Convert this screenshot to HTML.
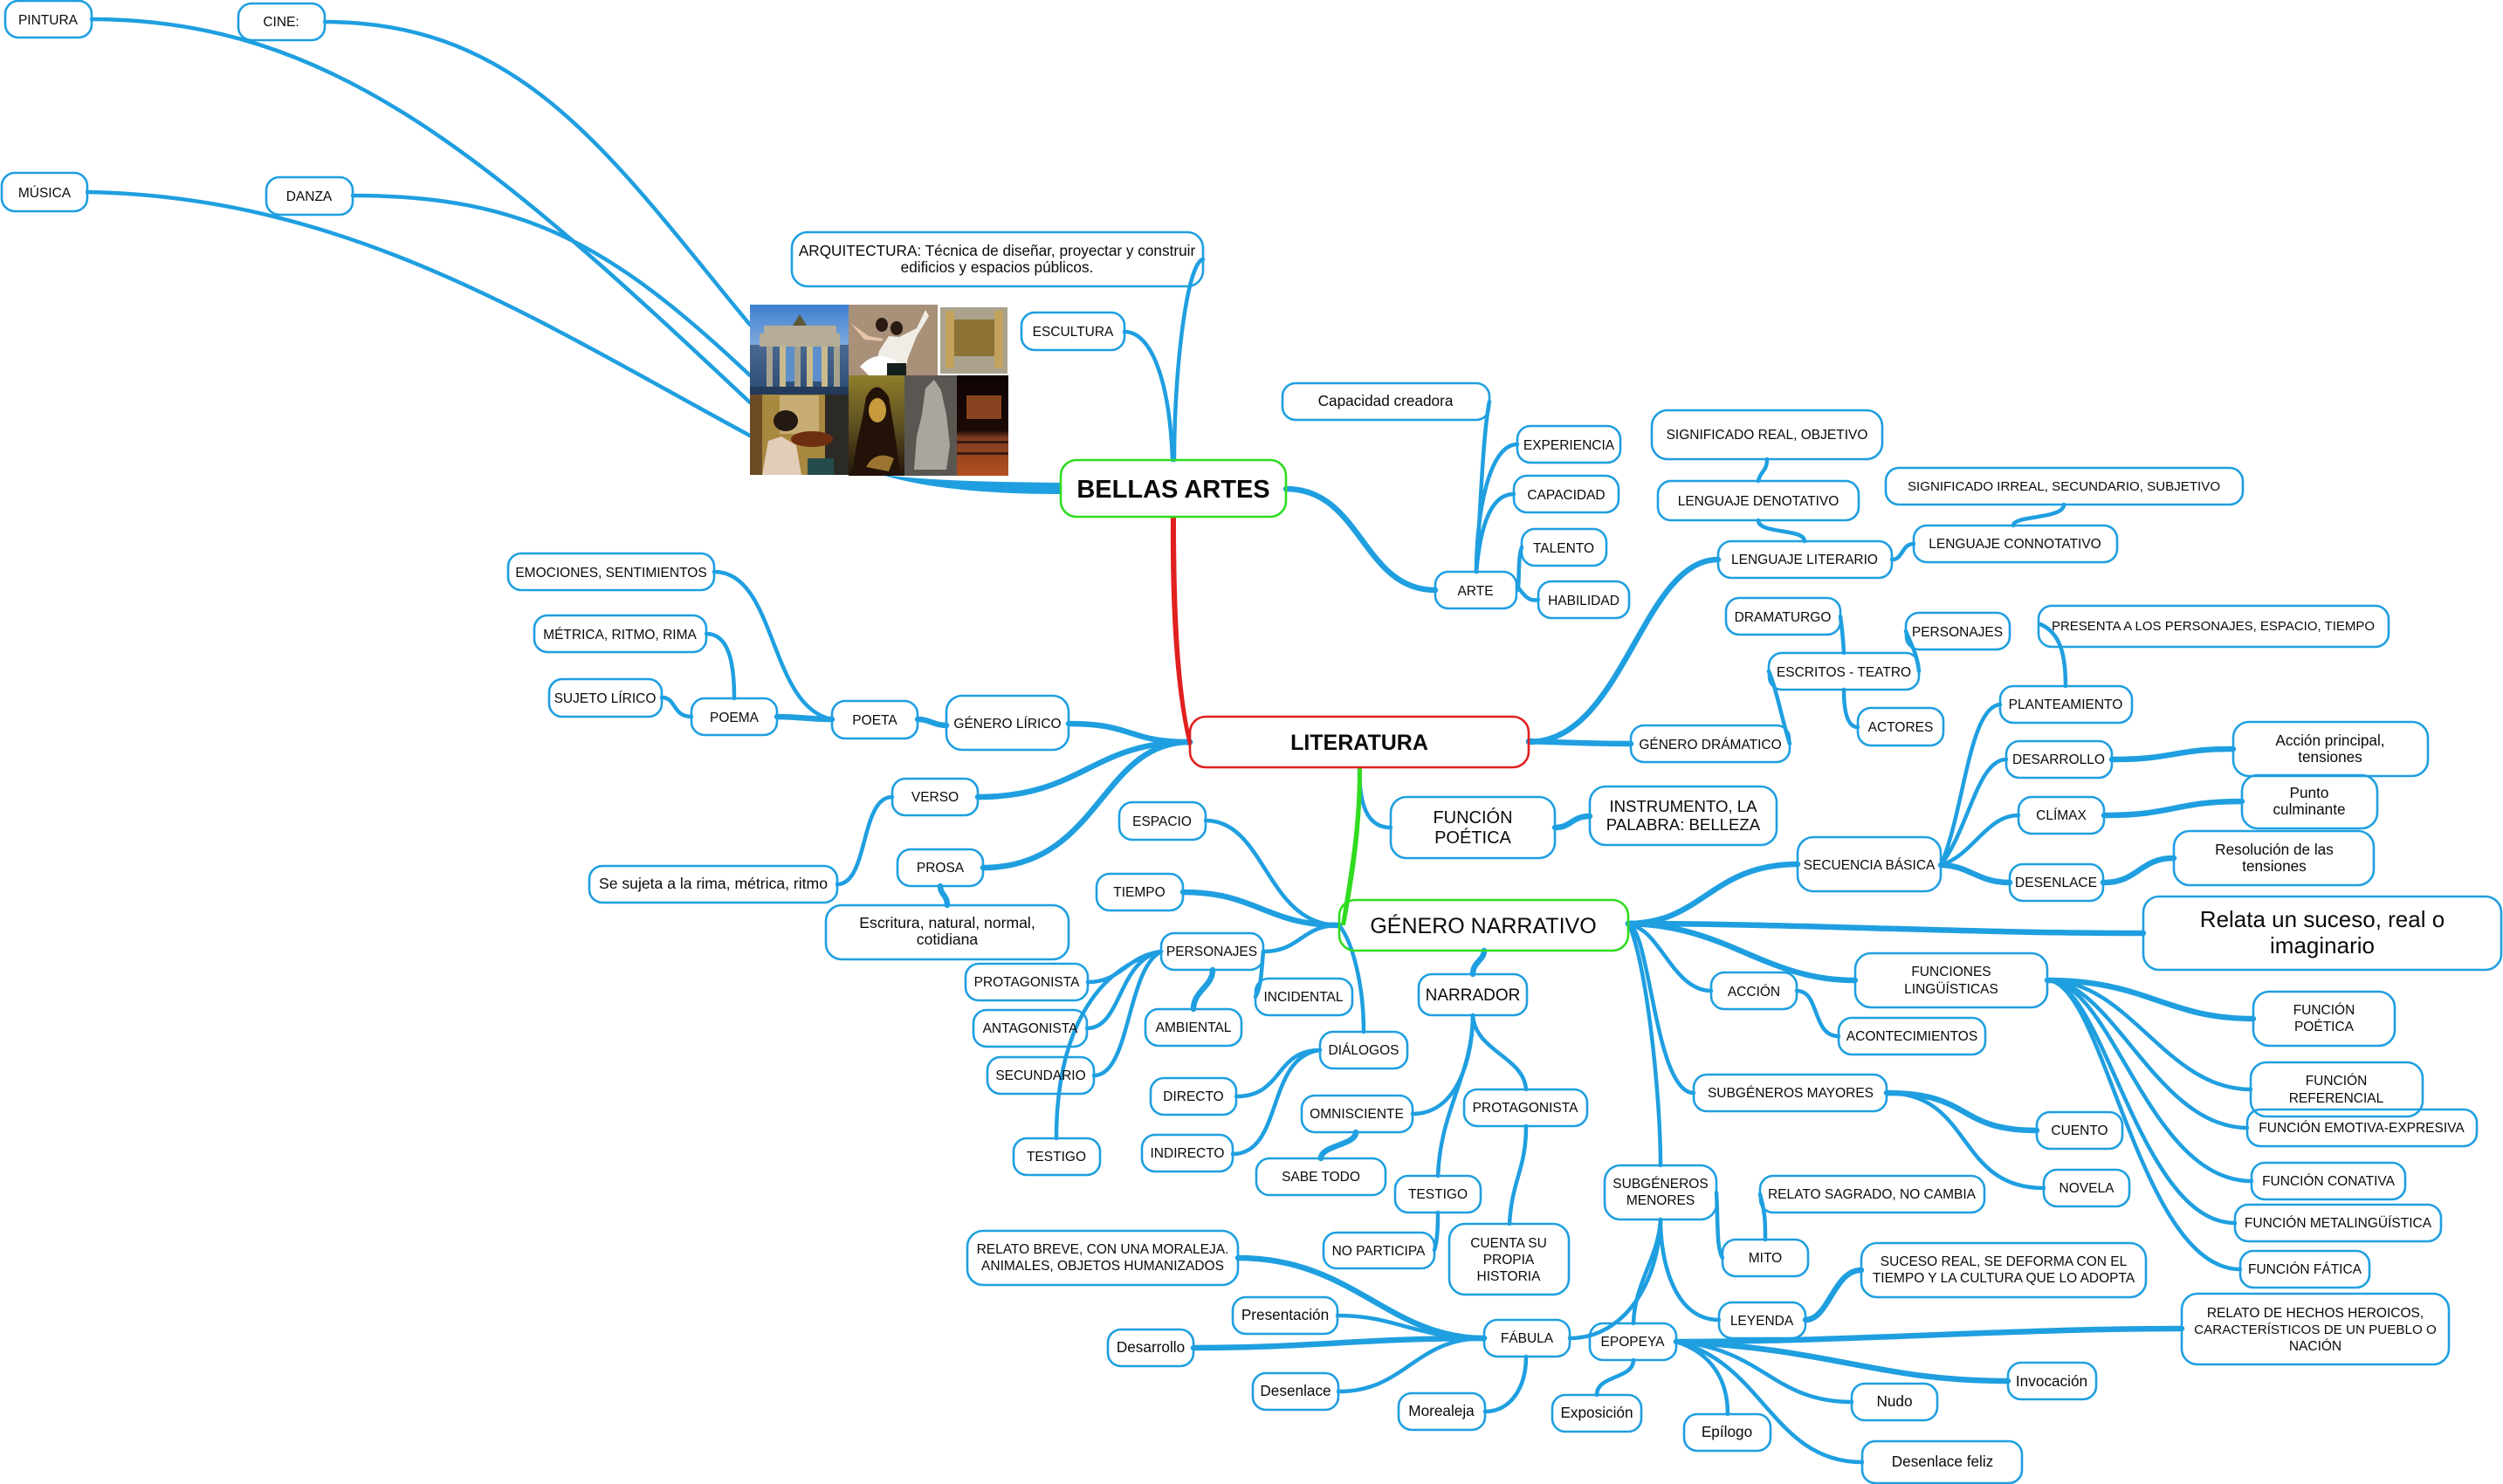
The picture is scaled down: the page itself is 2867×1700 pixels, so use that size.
<!DOCTYPE html>
<html><head><meta charset="utf-8"><style>
html,body{margin:0;padding:0;background:#fff;width:2867px;height:1700px;overflow:hidden}
svg{display:block}
.l path{fill:none;stroke:#1f9fe0;stroke-width:4.5;stroke-linecap:round}
.l path.k{stroke-width:6.5}
.n rect{fill:none;stroke:#1f9fe0;stroke-width:2.6}
text{font-family:"Liberation Sans",sans-serif;font-size:15.5px;fill:#0a0a0a;text-anchor:middle}
text.m{font-size:17.2px}
</style></head><body>
<svg width="2867" height="1700" viewBox="0 0 2867 1700" xmlns="http://www.w3.org/2000/svg">
<defs>
<linearGradient id="sky" x1="0" y1="0" x2="0" y2="1"><stop offset="0" stop-color="#3d7fd0"/><stop offset=".45" stop-color="#7ea9dc"/><stop offset="1" stop-color="#2a5b98"/></linearGradient>
<linearGradient id="seat" x1="0" y1="0" x2="0" y2="1"><stop offset="0" stop-color="#0e0303"/><stop offset=".55" stop-color="#1c0905"/><stop offset=".62" stop-color="#7d3c22"/><stop offset="1" stop-color="#b5501f"/></linearGradient>
<linearGradient id="mona" x1="0" y1="0" x2="0" y2="1"><stop offset="0" stop-color="#8f7d2c"/><stop offset=".5" stop-color="#5d5020"/><stop offset="1" stop-color="#21140a"/></linearGradient>
</defs>
<g class="l">
<path d="M105 22C380 22 560 180 859 461"/>
<path d="M372 25C600 25 700 180 859 372"/>
<path d="M100 220C400 225 620 370 859 499"/>
<path d="M404 224C600 224 700 280 859 430"/>
<path d="M1345 527C1345 420 1360 300 1378 297"/>
<path d="M1343 527C1340 440 1320 380 1288 380"/>
<path class="k" d="M1473 560C1560 560 1560 676 1644 676"/>
<path d="M1691 655C1695 600 1698 500 1706 460"/>
<path d="M1691 655C1691 590 1705 509 1738 509"/>
<path d="M1691 655C1695 610 1705 566 1734 566"/>
<path d="M1738 676C1741 670 1738 640 1743 627"/>
<path d="M1738 672C1745 680 1750 690 1762 687"/>
<path class="k" d="M1751 850C1860 850 1880 641 1968 641"/>
<path class="k" d="M1751 849C1800 851 1830 852 1868 852"/>
<path d="M2067 620C2067 605 2014 612 2014 596"/>
<path d="M2014 551C2016 540 2024 540 2024 526"/>
<path d="M2167 641C2180 641 2178 623 2192 623"/>
<path d="M2306 602C2306 590 2364 595 2364 578"/>
<path d="M2050 852C2040 820 2035 790 2026 769"/>
<path d="M2112 748C2111 730 2110 720 2108 706"/>
<path d="M2198 769C2196 750 2190 740 2183 723"/>
<path d="M2112 790C2112 815 2116 833 2128 833"/>
<path d="M2223 991C2250 930 2255 810 2291 807"/>
<path d="M2223 991C2255 950 2265 870 2298 870"/>
<path d="M2223 991C2260 980 2275 934 2312 934"/>
<path class="k" d="M2223 991C2255 991 2265 1011 2302 1011"/>
<path d="M2366 786C2366 750 2360 725 2337 715"/>
<path class="k" d="M2419 870C2490 870 2490 858 2558 858"/>
<path class="k" d="M2410 934C2490 934 2490 918 2568 918"/>
<path class="k" d="M2409 1011C2450 1011 2450 983 2490 983"/>
<path d="M1557 880C1557 920 1565 948 1593 948"/>
<path class="k" d="M1781 948C1800 948 1800 935 1821 935"/>
<path class="k" d="M1865 1058C1950 1058 1960 990 2059 990"/>
<path class="k" d="M1865 1058C2050 1058 2250 1069 2455 1069"/>
<path class="k" d="M1865 1058C1980 1060 2020 1123 2125 1123"/>
<path d="M1865 1060C1900 1060 1915 1135 1960 1135"/>
<path d="M1865 1060C1890 1060 1895 1252 1940 1252"/>
<path d="M1866 1060C1885 1100 1902 1250 1902 1335"/>
<path d="M2058 1135C2085 1135 2075 1187 2106 1187"/>
<path class="k" d="M2345 1123C2460 1123 2480 1167 2581 1167"/>
<path d="M2345 1123C2440 1123 2480 1248 2578 1248"/>
<path d="M2345 1123C2420 1123 2470 1292 2574 1292"/>
<path d="M2345 1123C2420 1123 2460 1353 2579 1353"/>
<path d="M2345 1123C2410 1123 2450 1401 2560 1401"/>
<path d="M2345 1123C2410 1123 2450 1454 2566 1454"/>
<path class="k" d="M2161 1252C2260 1252 2240 1295 2333 1295"/>
<path d="M2161 1252C2260 1252 2240 1361 2341 1361"/>
<path d="M1966 1366C1968 1400 1966 1430 1973 1441"/>
<path d="M2022 1420C2022 1400 2022 1390 2016 1368"/>
<path d="M1902 1397C1902 1450 1920 1512 1969 1512"/>
<path d="M1902 1397C1900 1470 1860 1533 1798 1533"/>
<path d="M1902 1397C1900 1440 1872 1470 1871 1516"/>
<path class="k" d="M2068 1512C2095 1512 2100 1455 2132 1455"/>
<path class="k" d="M1920 1537C2120 1537 2300 1522 2499 1522"/>
<path class="k" d="M1920 1537C2100 1545 2150 1582 2300 1582"/>
<path d="M1920 1537C2020 1545 2030 1606 2121 1606"/>
<path d="M1920 1537C2020 1560 2030 1675 2133 1675"/>
<path d="M1920 1537C1960 1550 1979 1580 1979 1620"/>
<path d="M1871 1558C1871 1580 1829 1575 1829 1598"/>
<path d="M1748 1554C1748 1590 1730 1617 1701 1617"/>
<path class="k" d="M1700 1533C1590 1533 1550 1441 1418 1441"/>
<path d="M1700 1533C1620 1533 1600 1507 1532 1507"/>
<path class="k" d="M1700 1533C1560 1533 1500 1544 1367 1544"/>
<path d="M1700 1533C1620 1533 1610 1594 1533 1594"/>
<path d="M1534 1060C1450 1060 1450 940 1381 940"/>
<path class="k" d="M1534 1060C1450 1060 1440 1022 1355 1022"/>
<path d="M1534 1060C1490 1060 1490 1090 1447 1090"/>
<path d="M1534 1060C1550 1080 1562 1130 1562 1182"/>
<path d="M1447 1090C1445 1110 1445 1130 1438 1142"/>
<path d="M1330 1090C1290 1095 1285 1125 1246 1125"/>
<path d="M1330 1090C1280 1100 1285 1178 1245 1178"/>
<path d="M1330 1090C1290 1110 1295 1232 1253 1232"/>
<path d="M1330 1090C1250 1110 1210 1190 1210 1304"/>
<path class="k" d="M1389 1111C1389 1130 1367 1135 1367 1156"/>
<path d="M1512 1203C1460 1203 1470 1256 1416 1256"/>
<path d="M1512 1203C1450 1210 1470 1322 1412 1322"/>
<path class="k" d="M1700 1089C1700 1100 1687 1102 1687 1116"/>
<path d="M1687 1163C1687 1210 1670 1276 1618 1276"/>
<path d="M1687 1163C1690 1205 1745 1210 1748 1248"/>
<path d="M1687 1163C1687 1230 1650 1270 1647 1347"/>
<path class="k" d="M1553 1297C1553 1312 1513 1312 1513 1327"/>
<path d="M1647 1389C1647 1400 1647 1420 1643 1432"/>
<path d="M1748 1290C1748 1340 1732 1350 1729 1402"/>
<path d="M1022 913C985 913 995 1013 959 1013"/>
<path class="k" d="M1077 1015C1077 1025 1085 1025 1085 1037"/>
<path class="k" d="M1120 913C1240 913 1250 850 1363 850"/>
<path class="k" d="M1126 994C1260 994 1260 850 1363 850"/>
<path class="k" d="M1224 829C1300 829 1290 850 1363 850"/>
<path class="k" d="M1084 831C1070 831 1065 824 1051 824"/>
<path class="k" d="M953 824C930 824 910 821 890 821"/>
<path d="M953 824C880 810 890 655 818 655"/>
<path d="M841 800C841 760 835 726 809 726"/>
<path d="M792 821C770 821 775 799 758 799"/>
</g>
<path d="M1341 592C1340 700 1346 800 1363 860L1365 850C1351 790 1347 700 1347 592Z" fill="#e0201f"/>
<path d="M1555 880C1555 950 1545 1000 1536 1060L1541 1060C1552 1000 1560 950 1560 880Z" fill="#2fdc1f"/>
<path d="M1010 544C1080 552 1150 552 1216 553L1216 566C1150 566 1070 562 1010 544Z" fill="#1f9fe0"/>
<!-- collage -->
<g>
<rect x="859" y="349" width="113" height="103" fill="url(#sky)"/>
<rect x="859" y="395" width="113" height="50" fill="#2a3f5e" opacity=".6"/>
<path d="M875 373H958V382H962V397H870V382H875Z" fill="#b5ad97"/>
<rect x="878" y="397" width="7" height="46" fill="#a7a290"/><rect x="893" y="397" width="7" height="46" fill="#c9ba8c"/><rect x="910" y="397" width="7" height="46" fill="#a7a290"/><rect x="924" y="397" width="7" height="46" fill="#c9ba8c"/><rect x="941" y="397" width="7" height="46" fill="#c9ba8c"/><rect x="955" y="397" width="7" height="46" fill="#a7a290"/>
<rect x="900" y="397" width="10" height="40" fill="#5f8fcb"/><rect x="931" y="397" width="10" height="40" fill="#5f8fcb"/>
<path d="M908 373L916 360L924 373Z" fill="#5d5637"/>
<rect x="859" y="443" width="113" height="9" fill="#243a5a"/>
<rect x="972" y="349" width="102" height="81" fill="#a89079"/>
<path d="M1000 430L1007 402L1018 385L1030 386L1050 376L1060 355L1064 362L1050 385L1040 410L1038 420L1014 415Z" fill="#f0ede6"/>
<path d="M985 420Q1005 398 1030 416L1015 430H995Z" fill="#fff"/><rect x="1016" y="416" width="22" height="14" fill="#15201c"/>
<path d="M974 370L995 385L1012 388L1010 391L990 389Z" fill="#e5c5a8"/>
<ellipse cx="1010" cy="372" rx="7" ry="8" fill="#2a1a14"/><ellipse cx="1027" cy="376" rx="7" ry="8" fill="#2a1a14"/>
<rect x="1074" y="349" width="81" height="81" fill="#fff"/>
<rect x="1077" y="352" width="77" height="76" fill="#aaa28d"/>
<rect x="1092" y="366" width="50" height="42" fill="#8d7235"/><rect x="1083" y="356" width="10" height="66" fill="#c2a25c"/><rect x="1139" y="356" width="10" height="66" fill="#c2a25c"/>
<rect x="859" y="452" width="113" height="92" fill="#a9883f"/>
<rect x="859" y="452" width="14" height="92" fill="#6b4a24"/><rect x="945" y="452" width="27" height="92" fill="#2c2a25"/>
<rect x="893" y="453" width="45" height="44" fill="#c7ad74"/>
<path d="M873 544L880 505L895 500L912 510L918 544Z" fill="#e2cdb8"/>
<ellipse cx="900" cy="482" rx="14" ry="12" fill="#241812"/>
<ellipse cx="930" cy="503" rx="24" ry="9" fill="#6e2f10"/>
<rect x="925" y="525" width="30" height="19" fill="#244c4d"/>
<rect x="972" y="430" width="64" height="115" fill="url(#mona)"/>
<path d="M975 545L982 505Q988 480 992 455Q1004 432 1018 455Q1024 490 1032 545Z" fill="#221208"/>
<ellipse cx="1005" cy="470" rx="10" ry="14" fill="#c89a3e"/><path d="M992 535Q1003 515 1024 525L1018 540Z" fill="#9a7430"/>
<rect x="1036" y="430" width="60" height="115" fill="#5a5753"/>
<path d="M1047 538L1050 500L1056 475L1060 445L1070 435L1078 447L1084 475L1088 510L1084 538Z" fill="#aaa69d"/>
<rect x="1096" y="430" width="59" height="115" fill="url(#seat)"/>
<rect x="1107" y="453" width="40" height="27" fill="#8a4320"/>
<rect x="1096" y="505" width="59" height="3" fill="#3c1a10"/><rect x="1096" y="518" width="59" height="3" fill="#3c1a10"/>
</g>
<g class="n">
<rect x="6" y="1" width="99" height="42" rx="15"/><text x="55" y="28">PINTURA</text>
<rect x="273" y="4" width="99" height="42" rx="15"/><text x="322" y="30">CINE:</text>
<rect x="2" y="198" width="98" height="44" rx="15"/><text x="51" y="226">MÚSICA</text>
<rect x="305" y="203" width="99" height="43" rx="15"/><text x="354" y="230">DANZA</text>
<rect x="907" y="266" width="471" height="62" rx="18"/><text class="m" x="1142" y="293">ARQUITECTURA: Técnica de diseñar, proyectar y construir</text><text class="m" x="1142" y="312">edificios y espacios públicos.</text>
<rect x="1170" y="358" width="118" height="43" rx="15"/><text x="1229" y="385">ESCULTURA</text>
<rect x="1215" y="527" width="258" height="65" rx="18" style="stroke:#2fdc1f"/><text x="1344" y="570" style="font-size:29px;font-weight:bold">BELLAS ARTES</text>
<rect x="582" y="634" width="236" height="42" rx="15"/><text x="700" y="661">EMOCIONES, SENTIMIENTOS</text>
<rect x="612" y="705" width="197" height="42" rx="15"/><text x="710" y="732">MÉTRICA, RITMO, RIMA</text>
<rect x="629" y="778" width="129" height="43" rx="15"/><text x="693" y="805">SUJETO LÍRICO</text>
<rect x="792" y="800" width="98" height="42" rx="15"/><text x="841" y="827">POEMA</text>
<rect x="953" y="803" width="98" height="43" rx="15"/><text x="1002" y="830">POETA</text>
<rect x="1084" y="797" width="140" height="62" rx="18"/><text x="1154" y="834">GÉNERO LÍRICO</text>
<rect x="1469" y="439" width="237" height="42" rx="15"/><text class="m" x="1587" y="465">Capacidad creadora</text>
<rect x="1738" y="488" width="118" height="42" rx="15"/><text x="1797" y="515">EXPERIENCIA</text>
<rect x="1734" y="545" width="120" height="42" rx="15"/><text x="1794" y="572">CAPACIDAD</text>
<rect x="1743" y="606" width="97" height="42" rx="15"/><text x="1791" y="633">TALENTO</text>
<rect x="1762" y="666" width="104" height="42" rx="15"/><text x="1814" y="693">HABILIDAD</text>
<rect x="1644" y="655" width="93" height="42" rx="15"/><text x="1690" y="682">ARTE</text>
<rect x="1892" y="470" width="264" height="56" rx="18"/><text x="2024" y="503">SIGNIFICADO REAL, OBJETIVO</text>
<rect x="1899" y="551" width="230" height="45" rx="15"/><text x="2014" y="579">LENGUAJE DENOTATIVO</text>
<rect x="2160" y="536" width="409" height="42" rx="15"/><text x="2364" y="562" style="font-size:15.1px">SIGNIFICADO IRREAL, SECUNDARIO, SUBJETIVO</text>
<rect x="2192" y="602" width="233" height="42" rx="15"/><text x="2308" y="628">LENGUAJE CONNOTATIVO</text>
<rect x="1968" y="620" width="199" height="42" rx="15"/><text x="2067" y="646">LENGUAJE LITERARIO</text>
<rect x="1977" y="685" width="131" height="42" rx="15"/><text x="2042" y="712">DRAMATURGO</text>
<rect x="2183" y="702" width="119" height="42" rx="15"/><text x="2242" y="729">PERSONAJES</text>
<rect x="2026" y="748" width="172" height="42" rx="15"/><text x="2112" y="775">ESCRITOS - TEATRO</text>
<rect x="2335" y="694" width="401" height="47" rx="15"/><text x="2535" y="722" style="font-size:15px">PRESENTA A LOS PERSONAJES, ESPACIO, TIEMPO</text>
<rect x="2128" y="811" width="98" height="43" rx="15"/><text x="2177" y="838">ACTORES</text>
<rect x="1363" y="821" width="388" height="58" rx="18" style="stroke:#e0201f"/><text x="1557" y="859" style="font-size:25px;font-weight:bold">LITERATURA</text>
<rect x="1868" y="831" width="182" height="42" rx="15"/><text x="1959" y="858">GÉNERO DRÁMATICO</text>
<rect x="2291" y="786" width="151" height="42" rx="15"/><text x="2366" y="812">PLANTEAMIENTO</text>
<rect x="2298" y="849" width="121" height="42" rx="15"/><text x="2358" y="875">DESARROLLO</text>
<rect x="2312" y="913" width="98" height="42" rx="15"/><text x="2361" y="939">CLÍMAX</text>
<rect x="2302" y="990" width="107" height="42" rx="15"/><text x="2355" y="1016">DESENLACE</text>
<rect x="2558" y="827" width="223" height="62" rx="18"/><text class="m" x="2669" y="854">Acción principal,</text><text class="m" x="2669" y="873">tensiones</text>
<rect x="2568" y="888" width="155" height="61" rx="18"/><text class="m" x="2645" y="914">Punto</text><text class="m" x="2645" y="933">culminante</text>
<rect x="2490" y="952" width="229" height="62" rx="18"/><text class="m" x="2605" y="979">Resolución de las</text><text class="m" x="2605" y="998">tensiones</text>
<rect x="2059" y="959" width="164" height="62" rx="18"/><text x="2141" y="996">SECUENCIA BÁSICA</text>
<rect x="1593" y="913" width="188" height="70" rx="18"/><text x="1687" y="943" style="font-size:20px">FUNCIÓN</text><text x="1687" y="966" style="font-size:20px">POÉTICA</text>
<rect x="1821" y="901" width="214" height="67" rx="18"/><text x="1928" y="930" style="font-size:18.6px">INSTRUMENTO, LA</text><text x="1928" y="951" style="font-size:18.6px">PALABRA: BELLEZA</text>
<rect x="1534" y="1031" width="331" height="58" rx="18" style="stroke:#2fdc1f"/><text x="1699" y="1069" style="font-size:25px">GÉNERO NARRATIVO</text>
<rect x="2455" y="1027" width="410" height="84" rx="18"/><text x="2660" y="1062" style="font-size:26px">Relata un suceso, real o</text><text x="2660" y="1092" style="font-size:26px">imaginario</text>
<rect x="1625" y="1116" width="124" height="47" rx="15"/><text x="1687" y="1146" style="font-size:19px">NARRADOR</text>
<rect x="1438" y="1121" width="111" height="42" rx="15"/><text x="1493" y="1147">INCIDENTAL</text>
<rect x="2125" y="1092" width="220" height="62" rx="18"/><text x="2235" y="1118">FUNCIONES</text><text x="2235" y="1138">LINGÜÍSTICAS</text>
<rect x="1960" y="1114" width="98" height="42" rx="15"/><text x="2009" y="1141">ACCIÓN</text>
<rect x="2106" y="1166" width="168" height="42" rx="15"/><text x="2190" y="1192">ACONTECIMIENTOS</text>
<rect x="2581" y="1136" width="162" height="62" rx="18"/><text x="2662" y="1162">FUNCIÓN</text><text x="2662" y="1181">POÉTICA</text>
<rect x="2578" y="1217" width="197" height="62" rx="18"/><text x="2676" y="1243">FUNCIÓN</text><text x="2676" y="1263">REFERENCIAL</text>
<rect x="2574" y="1271" width="263" height="42" rx="15"/><text x="2705" y="1297">FUNCIÓN EMOTIVA-EXPRESIVA</text>
<rect x="2579" y="1332" width="176" height="42" rx="15"/><text x="2667" y="1358">FUNCIÓN CONATIVA</text>
<rect x="2560" y="1380" width="236" height="42" rx="15"/><text x="2678" y="1406">FUNCIÓN METALINGÜÍSTICA</text>
<rect x="2566" y="1433" width="148" height="42" rx="15"/><text x="2640" y="1459">FUNCIÓN FÁTICA</text>
<rect x="2499" y="1482" width="306" height="81" rx="18"/><text x="2652" y="1509">RELATO DE HECHOS HEROICOS,</text><text x="2652" y="1528" style="font-size:15.2px">CARACTERÍSTICOS DE UN PUEBLO O</text><text x="2652" y="1547">NACIÓN</text>
<rect x="2300" y="1561" width="101" height="42" rx="15"/><text class="m" x="2350" y="1588">Invocación</text>
<rect x="2121" y="1585" width="98" height="42" rx="15"/><text class="m" x="2170" y="1611">Nudo</text>
<rect x="2133" y="1651" width="183" height="48" rx="15"/><text class="m" x="2225" y="1680">Desenlace feliz</text>
<rect x="1929" y="1620" width="99" height="42" rx="15"/><text class="m" x="1978" y="1646">Epílogo</text>
<rect x="1778" y="1598" width="102" height="42" rx="15"/><text class="m" x="1829" y="1624">Exposición</text>
<rect x="1821" y="1516" width="99" height="42" rx="15"/><text x="1870" y="1542">EPOPEYA</text>
<rect x="1700" y="1512" width="98" height="42" rx="15"/><text x="1749" y="1538">FÁBULA</text>
<rect x="1969" y="1492" width="99" height="41" rx="15"/><text x="2018" y="1518">LEYENDA</text>
<rect x="2132" y="1424" width="326" height="62" rx="18"/><text x="2295" y="1450">SUCESO REAL, SE DEFORMA CON EL</text><text x="2295" y="1469">TIEMPO Y LA CULTURA QUE LO ADOPTA</text>
<rect x="1973" y="1420" width="98" height="42" rx="15"/><text x="2022" y="1446">MITO</text>
<rect x="2016" y="1347" width="257" height="42" rx="15"/><text x="2144" y="1373">RELATO SAGRADO, NO CAMBIA</text>
<rect x="1838" y="1335" width="128" height="62" rx="18"/><text x="1902" y="1361">SUBGÉNEROS</text><text x="1902" y="1380">MENORES</text>
<rect x="1940" y="1231" width="221" height="42" rx="15"/><text x="2051" y="1257">SUBGÉNEROS MAYORES</text>
<rect x="2333" y="1274" width="98" height="42" rx="15"/><text x="2382" y="1300">CUENTO</text>
<rect x="2341" y="1340" width="98" height="42" rx="15"/><text x="2390" y="1366">NOVELA</text>
<rect x="1677" y="1248" width="141" height="42" rx="15"/><text x="1747" y="1274">PROTAGONISTA</text>
<rect x="1660" y="1402" width="137" height="81" rx="18"/><text x="1728" y="1429">CUENTA SU</text><text x="1728" y="1448">PROPIA</text><text x="1728" y="1467">HISTORIA</text>
<rect x="1022" y="892" width="98" height="42" rx="15"/><text x="1071" y="918">VERSO</text>
<rect x="1028" y="973" width="98" height="42" rx="15"/><text x="1077" y="999">PROSA</text>
<rect x="675" y="992" width="284" height="42" rx="15"/><text x="817" y="1018" style="font-size:17.6px">Se sujeta a la rima, métrica, ritmo</text>
<rect x="946" y="1037" width="278" height="62" rx="18"/><text x="1085" y="1063" style="font-size:17.6px">Escritura, natural, normal,</text><text x="1085" y="1082" style="font-size:17.6px">cotidiana</text>
<rect x="1282" y="919" width="99" height="43" rx="15"/><text x="1331" y="946">ESPACIO</text>
<rect x="1256" y="1001" width="99" height="42" rx="15"/><text x="1305" y="1027">TIEMPO</text>
<rect x="1330" y="1069" width="117" height="42" rx="15"/><text x="1388" y="1095">PERSONAJES</text>
<rect x="1106" y="1104" width="140" height="42" rx="15"/><text x="1176" y="1130">PROTAGONISTA</text>
<rect x="1115" y="1157" width="130" height="42" rx="15"/><text x="1180" y="1183">ANTAGONISTA</text>
<rect x="1131" y="1211" width="122" height="42" rx="15"/><text x="1192" y="1237">SECUNDARIO</text>
<rect x="1312" y="1156" width="110" height="42" rx="15"/><text x="1367" y="1182">AMBIENTAL</text>
<rect x="1512" y="1182" width="100" height="42" rx="15"/><text x="1562" y="1208">DIÁLOGOS</text>
<rect x="1318" y="1235" width="98" height="42" rx="15"/><text x="1367" y="1261">DIRECTO</text>
<rect x="1308" y="1300" width="104" height="42" rx="15"/><text x="1360" y="1326">INDIRECTO</text>
<rect x="1491" y="1255" width="127" height="42" rx="15"/><text x="1554" y="1281">OMNISCIENTE</text>
<rect x="1439" y="1327" width="148" height="42" rx="15"/><text x="1513" y="1353">SABE TODO</text>
<rect x="1161" y="1304" width="99" height="42" rx="15"/><text x="1210" y="1330">TESTIGO</text>
<rect x="1598" y="1347" width="98" height="42" rx="15"/><text x="1647" y="1373">TESTIGO</text>
<rect x="1516" y="1412" width="127" height="41" rx="15"/><text x="1579" y="1438">NO PARTICIPA</text>
<rect x="1108" y="1410" width="310" height="62" rx="18"/><text x="1263" y="1436">RELATO BREVE, CON UNA MORALEJA.</text><text x="1263" y="1455">ANIMALES, OBJETOS HUMANIZADOS</text>
<rect x="1412" y="1486" width="120" height="42" rx="15"/><text class="m" x="1472" y="1512">Presentación</text>
<rect x="1269" y="1523" width="98" height="42" rx="15"/><text class="m" x="1318" y="1549">Desarrollo</text>
<rect x="1435" y="1573" width="98" height="42" rx="15"/><text class="m" x="1484" y="1599">Desenlace</text>
<rect x="1602" y="1596" width="99" height="42" rx="15"/><text class="m" x="1651" y="1622">Morealeja</text>
</g>
</svg>
</body></html>
